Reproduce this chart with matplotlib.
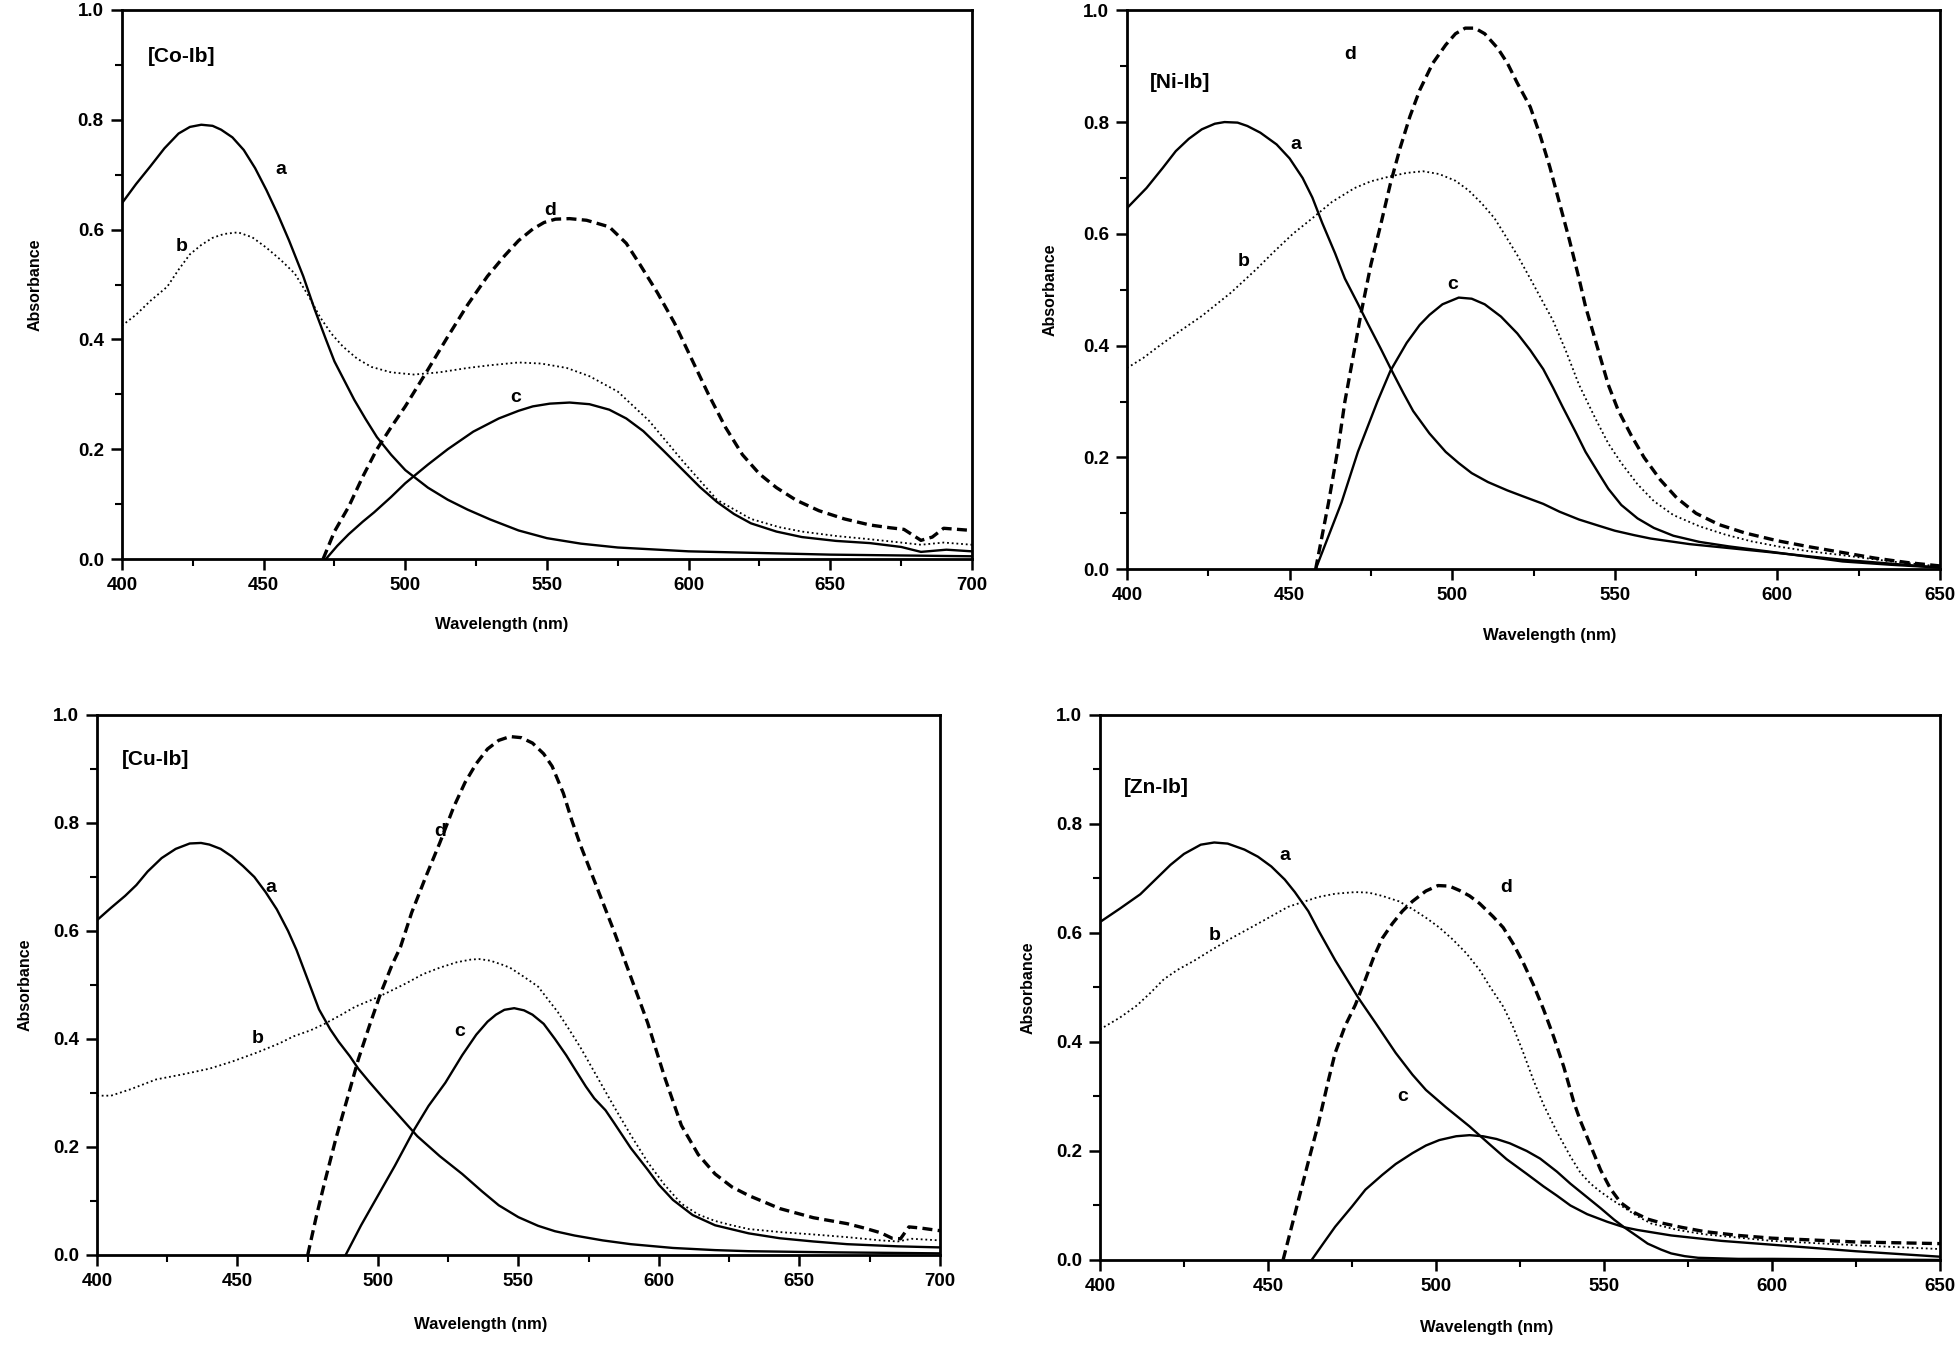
import matplotlib
matplotlib.use("Agg")
import matplotlib.pyplot as plt
from matplotlib.ticker import MultipleLocator, FormatStrFormatter

plt.rcParams['font.family'] = ['Liberation Sans', 'DejaVu Sans']
plt.rcParams['font.weight'] = 'bold'

# ---------------- [Co-Ib] ----------------
co_a_x = [400, 405, 410, 415, 420, 424, 428, 432, 435, 439, 443, 447, 451, 455, 459, 464, 468, 472, 475, 479, 482, 486, 490, 495, 500, 508, 515, 522, 530, 540, 550, 562, 575, 600, 650, 700]
co_a_y = [0.648, 0.683, 0.715, 0.748, 0.775, 0.787, 0.791, 0.789, 0.782, 0.768, 0.745, 0.712, 0.672, 0.628, 0.58, 0.515, 0.455, 0.40, 0.36, 0.32, 0.29, 0.255, 0.222, 0.19, 0.162, 0.13, 0.108, 0.09, 0.072, 0.052, 0.038, 0.028, 0.021, 0.014, 0.008, 0.005]
co_b_x = [400, 405, 410, 416, 420, 424, 428, 432, 436, 441, 446, 451, 456, 461, 466, 470, 474, 478, 483, 488, 495, 503, 512, 522, 530, 540, 548, 557, 565, 575, 586, 598, 610, 622, 632, 640, 652, 664, 675, 682, 690, 700]
co_b_y = [0.425, 0.445, 0.47, 0.496, 0.527, 0.555, 0.572, 0.585, 0.592, 0.595, 0.586, 0.567, 0.545, 0.52, 0.478, 0.44, 0.41, 0.387, 0.365, 0.35, 0.34, 0.336, 0.34, 0.348, 0.353, 0.358, 0.356, 0.348, 0.333, 0.305, 0.252, 0.178, 0.108, 0.073, 0.058, 0.05, 0.042, 0.036, 0.03, 0.026, 0.03, 0.026]
co_c_x = [472, 476, 480, 485, 489, 495, 500, 508, 515, 524, 533, 540, 545, 551, 558, 565, 572, 578, 584, 591, 598, 604, 610, 616, 622, 631, 640, 652, 664, 675, 682, 691, 700]
co_c_y = [0.0, 0.024, 0.045, 0.068, 0.085, 0.113, 0.138, 0.172, 0.20, 0.232, 0.256, 0.27, 0.278, 0.283, 0.285, 0.282, 0.272, 0.256, 0.233, 0.198, 0.162, 0.131, 0.104, 0.082, 0.065, 0.05, 0.04, 0.033, 0.029, 0.022, 0.013, 0.017, 0.014]
co_d_x = [471, 475, 480, 485, 490, 495, 500, 508, 515, 522, 529, 535, 540, 545, 549, 553, 558, 564, 572, 578, 583, 589, 595, 601, 607, 613, 619, 625, 631, 638, 646, 655, 664, 671, 676, 682, 686, 690, 700]
co_d_y = [0.0, 0.05, 0.095, 0.15, 0.2, 0.24, 0.278, 0.345, 0.405, 0.463, 0.515, 0.552, 0.58, 0.601, 0.613, 0.619, 0.62, 0.617, 0.605, 0.575, 0.535, 0.485, 0.43, 0.365, 0.30, 0.24, 0.19, 0.155, 0.13, 0.107, 0.088, 0.073, 0.062, 0.057, 0.054, 0.034, 0.04, 0.056, 0.052]

# ---------------- [Ni-Ib] ----------------
ni_a_x = [400, 406, 411, 415, 419, 423, 427, 430, 434, 437, 441, 446, 450, 454, 457, 460, 464, 467, 471, 474, 478, 481, 485, 488, 493, 498, 502, 506, 511, 517, 522, 528, 533, 539, 545, 550, 556, 561, 567, 573, 585, 597, 610, 620, 635, 650]
ni_a_y = [0.646, 0.682, 0.718, 0.748, 0.77, 0.787, 0.797, 0.80, 0.799, 0.793, 0.781, 0.76, 0.735, 0.70, 0.665, 0.62, 0.565, 0.52, 0.475, 0.44, 0.395, 0.36, 0.315, 0.283, 0.243, 0.21, 0.19, 0.172, 0.156, 0.141, 0.13, 0.117, 0.103, 0.089, 0.078, 0.069, 0.061, 0.055, 0.05, 0.045, 0.038, 0.031, 0.023, 0.017, 0.01, 0.003]
ni_b_x = [400, 405, 410, 416, 423, 432, 440, 445, 451, 457, 463, 470, 475, 481, 486, 491, 496, 501, 505, 509, 513, 516, 520, 524, 528, 531, 535, 539, 544, 548, 552, 557, 562, 568, 576, 584, 592, 601, 610, 619, 635, 650]
ni_b_y = [0.36, 0.378, 0.40, 0.425, 0.453, 0.495, 0.538, 0.567, 0.6, 0.628, 0.657, 0.682, 0.694, 0.703, 0.709, 0.712, 0.707, 0.695, 0.678, 0.655, 0.628, 0.60, 0.562, 0.52, 0.477, 0.445, 0.39, 0.33, 0.27, 0.225, 0.19, 0.152, 0.122, 0.097, 0.077, 0.062, 0.05, 0.04, 0.032, 0.026, 0.014, 0.005]
ni_c_x = [458, 462, 466, 471, 477, 481, 486, 490, 493, 497, 502, 506, 510, 515, 520, 524, 528, 531, 534, 538, 541, 545, 548, 552, 557, 562, 568, 576, 585, 593, 601, 610, 620, 635, 650]
ni_c_y = [0.0, 0.06, 0.12, 0.21, 0.30, 0.355, 0.405, 0.437, 0.455, 0.474, 0.486, 0.484, 0.474, 0.452, 0.422, 0.392, 0.358, 0.325, 0.29, 0.245, 0.21, 0.172, 0.144, 0.115, 0.091, 0.074, 0.06, 0.049, 0.041, 0.035, 0.029, 0.022, 0.014, 0.008, 0.003]
ni_d_x = [458, 460, 462, 465, 467, 470, 472, 475, 478, 481, 484, 487, 490, 494, 498, 501, 504, 507, 510, 514, 517, 520, 524, 527, 530, 533, 536, 539, 541, 545, 548, 551, 555, 559, 564, 569, 575, 582, 590, 600, 610, 620, 630, 640, 650]
ni_d_y = [0.0, 0.06, 0.12, 0.22, 0.30, 0.395, 0.459, 0.545, 0.616, 0.69, 0.754, 0.81, 0.857, 0.905, 0.938, 0.958, 0.968, 0.968, 0.958, 0.932, 0.905, 0.87, 0.827, 0.777, 0.72, 0.655, 0.59, 0.52, 0.47, 0.39, 0.33, 0.285, 0.24, 0.2, 0.16, 0.128, 0.10, 0.08, 0.065, 0.051, 0.04, 0.03, 0.02, 0.012, 0.006]

# ---------------- [Cu-Ib] ----------------
cu_a_x = [400, 405, 410, 414, 418, 423, 428, 433, 437, 440, 444, 448, 452, 456, 460, 464, 468, 471, 475, 479, 483, 486, 490, 493, 497, 502, 508, 514, 522, 530, 537, 543, 550, 557, 563, 570, 580, 590, 605, 620, 632, 660, 700]
cu_a_y = [0.62, 0.643, 0.665, 0.685, 0.71, 0.735, 0.752, 0.762, 0.763, 0.76, 0.752, 0.738, 0.72, 0.70, 0.672, 0.64, 0.6, 0.565, 0.51, 0.455, 0.418, 0.395, 0.368, 0.345, 0.32, 0.29, 0.255, 0.22, 0.183, 0.15, 0.118, 0.092, 0.07, 0.054, 0.044, 0.036, 0.027, 0.02, 0.013, 0.009, 0.007, 0.005, 0.003]
cu_b_x = [400, 405, 412, 421, 431, 440, 448, 457, 465, 470, 476, 481, 487, 492, 498, 503, 510, 516, 522, 528, 533, 536, 540, 544, 547, 552, 557, 561, 564, 568, 572, 578, 584, 590, 596, 602, 608, 614, 620, 626, 632, 644, 655, 667, 679, 685, 690, 700]
cu_b_y = [0.295, 0.295, 0.307, 0.325, 0.335, 0.345, 0.358, 0.375, 0.392, 0.405, 0.416, 0.428, 0.445, 0.46, 0.473, 0.485, 0.503, 0.52, 0.532, 0.542, 0.547, 0.548, 0.545, 0.538, 0.532, 0.515, 0.497, 0.47, 0.45, 0.418, 0.385, 0.33, 0.275, 0.222, 0.172, 0.13, 0.095, 0.075, 0.063, 0.055, 0.048, 0.042, 0.038, 0.033, 0.027, 0.025, 0.03, 0.027]
cu_c_x = [488.5, 494, 500, 506, 513, 518, 524, 530, 535, 539, 542, 545, 548.5, 552, 555, 559, 563, 567, 570, 574, 577, 581, 584, 590, 596, 600, 605, 612, 620, 632, 643, 655, 667, 685, 700]
cu_c_y = [0.0, 0.055, 0.11, 0.165, 0.233, 0.276, 0.319, 0.37, 0.408, 0.432, 0.445, 0.454, 0.457, 0.453, 0.445, 0.428, 0.40, 0.37, 0.345, 0.312, 0.29, 0.268, 0.245, 0.198, 0.158, 0.13, 0.102, 0.074, 0.055, 0.04, 0.031, 0.025, 0.02, 0.016, 0.014]
cu_d_x = [475, 478, 481, 485, 489, 493, 497, 501, 505, 508, 512, 517, 522, 527, 531, 535, 539, 543, 547, 551, 555, 559, 562, 566, 569, 572, 578, 584, 590, 596, 602, 608, 614, 620, 626, 632, 638, 643, 655, 667, 673, 679, 683, 686, 689, 693, 700]
cu_d_y = [0.0, 0.07, 0.134, 0.215, 0.288, 0.362, 0.425, 0.485, 0.537, 0.57, 0.634, 0.7, 0.763, 0.83, 0.875, 0.91, 0.937, 0.953, 0.96, 0.958, 0.948, 0.928, 0.905, 0.855, 0.805, 0.76, 0.68, 0.60, 0.515, 0.43, 0.33, 0.24, 0.186, 0.15, 0.126, 0.11, 0.097, 0.086, 0.069, 0.058, 0.05, 0.041, 0.031, 0.03, 0.052, 0.05, 0.045]

# ---------------- [Zn-Ib] ----------------
zn_a_x = [400, 406, 412, 416, 421, 425, 430, 434, 438, 443, 447, 451, 455, 458, 462, 465, 468, 470, 474, 477, 482, 488, 493, 497, 503, 510, 516, 521, 527, 532, 536, 540, 545, 551, 556, 560, 570, 585, 600, 625, 650]
zn_a_y = [0.62, 0.645, 0.671, 0.695, 0.725, 0.745, 0.762, 0.766, 0.764, 0.753, 0.74, 0.722, 0.698, 0.675, 0.64, 0.605, 0.572, 0.55, 0.51, 0.48, 0.435, 0.38, 0.34, 0.312, 0.28, 0.245, 0.212, 0.185, 0.158, 0.135, 0.118, 0.10, 0.084, 0.07, 0.06, 0.055, 0.045, 0.035, 0.028, 0.016, 0.006]
zn_b_x = [400, 406, 411, 415, 419, 423, 428, 433, 439, 447, 456, 465, 470, 476, 480, 484, 489, 493, 497, 501, 505, 509, 513, 516, 520, 523, 526, 529, 532, 536, 540, 543, 546, 549, 552, 555, 560, 564, 572, 580, 600, 625, 650]
zn_b_y = [0.423, 0.445, 0.467, 0.49, 0.515, 0.532, 0.549, 0.568, 0.59, 0.617, 0.648, 0.666, 0.672, 0.675, 0.674, 0.668, 0.658, 0.644, 0.628, 0.61, 0.588, 0.563, 0.532, 0.502, 0.465, 0.427, 0.38, 0.33, 0.285, 0.235, 0.19, 0.16, 0.14, 0.125, 0.112, 0.10, 0.08, 0.067, 0.055, 0.047, 0.035, 0.027, 0.02]
zn_c_x = [463, 467, 470, 475, 479, 484, 488, 493, 497, 501, 506, 510, 514, 518, 522, 527, 531, 536, 540, 545, 549, 553, 556, 560, 563, 567, 570, 574, 578, 590, 600, 650]
zn_c_y = [0.0, 0.035, 0.061, 0.098, 0.129, 0.156, 0.176, 0.196, 0.21, 0.22, 0.227, 0.229, 0.227, 0.222, 0.214, 0.2, 0.186, 0.162, 0.14, 0.115, 0.095, 0.074, 0.06, 0.043, 0.03, 0.019, 0.012, 0.007, 0.004, 0.002, 0.002, 0.0]
zn_d_x = [454.5, 457, 459, 462, 465, 468, 470, 473, 476, 479, 481.5, 484, 487, 490, 493, 497, 500.6, 504, 507, 510, 513, 517, 520, 523, 526, 529, 532, 535, 538, 541, 543, 546, 549, 552, 555, 559, 563, 567, 573, 580, 590, 600, 625, 650]
zn_d_y = [0.0, 0.06, 0.108, 0.18, 0.25, 0.33, 0.38, 0.43, 0.468, 0.515, 0.556, 0.59, 0.617, 0.64, 0.658, 0.677, 0.687, 0.686, 0.678, 0.668, 0.654, 0.63, 0.61, 0.58, 0.545, 0.505, 0.46, 0.41, 0.355, 0.29, 0.255, 0.21, 0.165, 0.13, 0.105, 0.087, 0.075, 0.068, 0.06, 0.052, 0.045, 0.04, 0.033, 0.03]

curve_names = ['a', 'b', 'c', 'd']
x_label = 'Wavelength (nm)'
y_label = 'Absorbance'

panels = [
    dict(title='[Co-Ib]', xmax=700, rect=[0.0622, 0.5856, 0.4337, 0.407],
         data=[(co_a_x, co_a_y), (co_b_x, co_b_y), (co_c_x, co_c_y), (co_d_x, co_d_y)],
         title_pos=(409, 0.915), lab_pos=[(456, 0.71), (421, 0.57), (539, 0.295), (551, 0.635)],
         xlab=(0.447, -0.105), ylab=-0.102),
    dict(title='[Ni-Ib]', xmax=650, rect=[0.575, 0.578, 0.4148, 0.4144],
         data=[(ni_a_x, ni_a_y), (ni_b_x, ni_b_y), (ni_c_x, ni_c_y), (ni_d_x, ni_d_y)],
         title_pos=(407, 0.87), lab_pos=[(452, 0.76), (436, 0.55), (500, 0.51), (468.5, 0.92)],
         xlab=(0.52, -0.105), ylab=-0.095),
    dict(title='[Cu-Ib]', xmax=700, rect=[0.0495, 0.0697, 0.430, 0.4003],
         data=[(cu_a_x, cu_a_y), (cu_b_x, cu_b_y), (cu_c_x, cu_c_y), (cu_d_x, cu_d_y)],
         title_pos=(409, 0.917), lab_pos=[(462, 0.68), (457, 0.40), (529, 0.414), (522, 0.785)],
         xlab=(0.455, -0.115), ylab=-0.085),
    dict(title='[Zn-Ib]', xmax=650, rect=[0.5612, 0.066, 0.4286, 0.404],
         data=[(zn_a_x, zn_a_y), (zn_b_x, zn_b_y), (zn_c_x, zn_c_y), (zn_d_x, zn_d_y)],
         title_pos=(407, 0.867), lab_pos=[(455, 0.743), (434, 0.596), (490, 0.30), (521, 0.683)],
         xlab=(0.46, -0.11), ylab=-0.085),
]

styles = [
    dict(color='black', lw=1.7, linestyle='-'),
    dict(color='black', lw=1.3, linestyle=(0, (1, 1.6))),
    dict(color='black', lw=1.7, linestyle='-'),
    dict(color='black', lw=2.4, linestyle=(0, (3, 1.6))),
]

fig = plt.figure(figsize=(19.6, 13.49), dpi=100)
fig.patch.set_facecolor('white')

for p in panels:
    ax = fig.add_axes(p['rect'])
    for (xs, ys), st in zip(p['data'], styles):
        ax.plot(xs, ys, solid_joinstyle='round', dash_joinstyle='round', **st)
    ax.set_xlim(400, p['xmax'])
    ax.set_ylim(0.0, 1.0)
    ax.xaxis.set_major_locator(MultipleLocator(50))
    ax.xaxis.set_minor_locator(MultipleLocator(25))
    ax.yaxis.set_major_locator(MultipleLocator(0.2))
    ax.yaxis.set_minor_locator(MultipleLocator(0.1))
    ax.yaxis.set_major_formatter(FormatStrFormatter('%.1f'))
    ax.tick_params(which='major', direction='out', length=8, width=1.8, labelsize=13.5, pad=5)
    ax.tick_params(which='minor', direction='out', length=5, width=1.5)
    ax.tick_params(top=False, right=False)
    for lab in ax.get_xticklabels() + ax.get_yticklabels():
        lab.set_fontweight('bold')
    for s in ax.spines.values():
        s.set_linewidth(2.0)
    ax.text(p['title_pos'][0], p['title_pos'][1], p['title'], fontsize=15, fontweight='bold',
            ha='left', va='center')
    for name, (lx, ly) in zip(curve_names, p['lab_pos']):
        ax.text(lx, ly, name, fontsize=14, fontweight='bold', ha='center', va='center')
    ax.text(p['xlab'][0], p['xlab'][1], x_label, transform=ax.transAxes, fontsize=12,
            fontweight='bold', ha='center', va='top')
    ax.text(p['ylab'], 0.5, y_label, transform=ax.transAxes, fontsize=11.5,
            fontweight='bold', ha='center', va='center', rotation=90)

fig.savefig('out.png', dpi=100, facecolor='white')
